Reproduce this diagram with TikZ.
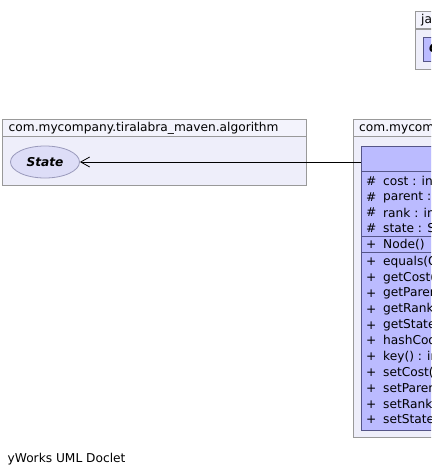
\documentclass[tikz,border=0pt]{standalone}
\usepackage{fontspec}
\setmainfont{DejaVu Sans}
\usetikzlibrary{shapes.geometric,arrows.meta}
\definecolor{pkgbody}{HTML}{EEEEFA}
\definecolor{pkghead}{HTML}{F3F3FC}
\definecolor{pkgline}{HTML}{999999}
\definecolor{clsfill}{HTML}{BBBBFF}
\definecolor{clsline}{HTML}{555588}
\definecolor{ifcfill}{HTML}{DDDDF7}
\definecolor{ifcline}{HTML}{9999BB}
\tikzset{
  pkghd/.style={draw=pkgline, fill=pkghead, line width=0.8pt, anchor=north west, inner sep=0pt, minimum height=17pt},
  pkgbd/.style={draw=pkgline, fill=pkgbody, line width=0.8pt, anchor=north west, inner sep=0pt},
  pkgtxt/.style={anchor=west, inner sep=0pt, font=\fontsize{12.2}{14}\selectfont},
  clsbox/.style={draw=clsline, fill=clsfill, line width=0.8pt, anchor=north west, inner sep=0pt},
  vis/.style={anchor=west, inner sep=0pt, font=\fontsize{12.2}{14}\selectfont},
  row/.style={anchor=west, inner sep=0pt, font=\fontsize{12.2}{14}\selectfont},
  sep/.style={draw=clsline, line width=0.8pt},
  ifc/.style={ellipse, draw=ifcline, fill=ifcfill, line width=0.8pt, inner sep=0pt, minimum width=69pt, minimum height=32pt, font=\fontsize{12.2}{14}\selectfont\bfseries\itshape},
  assoc/.style={draw=black, line width=0.8pt, -{Straight Barb[length=9pt,width=10pt,line width=0.8pt]}},
}
\begin{document}
\begin{tikzpicture}[x=1pt,y=-1pt]
\useasboundingbox (0,0) rectangle (431,476);
\clip (0,0) rectangle (431,476);
\fill[white] (0,0) rectangle (431,476);
% top-right package (java.lang)
\node[pkgbd, minimum width=40pt, minimum height=40pt] (jbody) at (415,29) {};
\node[pkghd, minimum width=40pt] (jhead) at (415,11) {};
\node[pkgtxt] (jname) at (421,20) {java.lang};
\node[clsbox, minimum width=40pt, minimum height=24pt] (cmp) at (423,37) {};
\node[pkgtxt, font=\fontsize{12.2}{14}\selectfont\bfseries\itshape] (cmpname) at (429,49) {Comparable};
% left package
\node[pkgbd, minimum width=304pt, minimum height=49pt] (abody) at (2,136) {};
\node[pkghd, minimum width=304pt] (ahead) at (2,119) {};
\node[pkgtxt] (aname) at (8.5,128) {com.mycompany.tiralabra\_maven.algorithm};
\node[ifc] (state) at (45,162) {State};
% right package
\node[pkgbd, minimum width=100pt, minimum height=301pt] (bbody) at (353,136) {};
\node[pkghd, minimum width=100pt] (bhead) at (353,119) {};
\node[pkgtxt] (bname) at (359,128) {com.mycompany.tiralabra\_maven.graph};
% class Node
\node[clsbox, minimum width=90pt, minimum height=284pt] (cls) at (361,146) {};
\draw[sep] (361,171) -- (455,171);
\draw[sep] (361,236.4) -- (455,236.4);
\draw[sep] (361,252.6) -- (455,252.6);
\foreach \y/\s/\t [count=\i] in {
  181/\#/cost : int, 196.8/\#/parent : Node, 212.6/\#/rank : int, 228.4/\#/state : State,
  244.5/+/Node(),
  262/+/equals(Object) : boolean, 277.8/+/getCost() : int, 293.6/+/getParent() : Node,
  309.4/+/getRank() : int, 325.2/+/getState() : State, 341/+/hashCode() : int,
  356.8/+/key() : int, 372.6/+/setCost(int) : void, 388.4/+/setParent(Node) : void,
  404.2/+/setRank(int) : void, 420/+/setState(State) : void}
{
  \node[vis] (v\i) at (366,\y) {\s};
  \node[row] (r\i) at (383,\y) {\t};
}
% association
\coordinate (from) at (cls.north west |- state.east);
\draw[assoc] (from) -- (state.east);
% footer
\node[anchor=west, inner sep=0pt, font=\fontsize{12.2}{14}\selectfont] (foot) at (7.5,459) {yWorks UML Doclet};
\end{tikzpicture}
\end{document}
